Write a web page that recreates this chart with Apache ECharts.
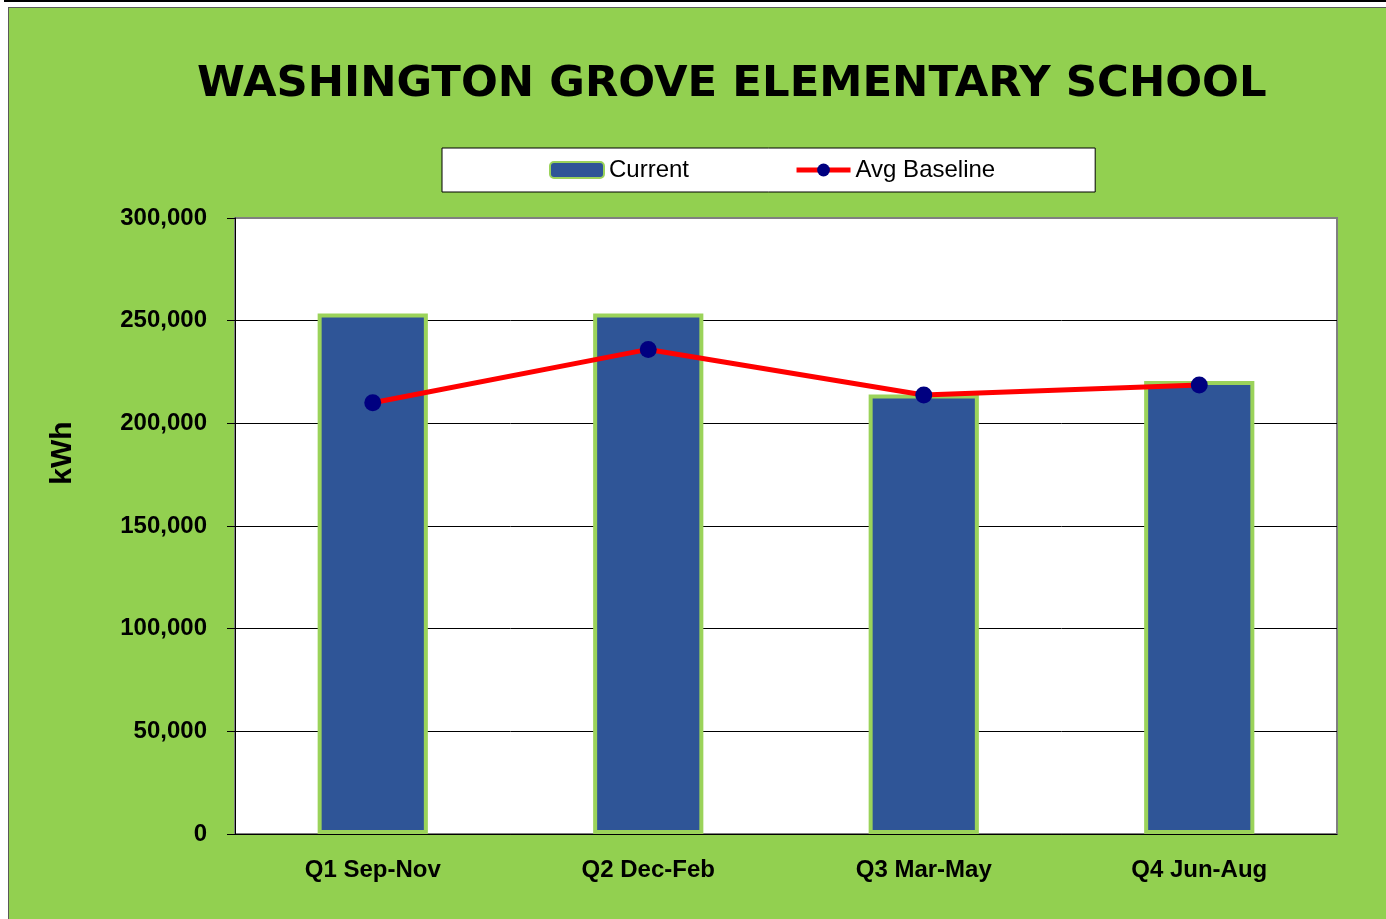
<!DOCTYPE html>
<html>
<head>
<meta charset="utf-8">
<script src="https://cdn.jsdelivr.net/npm/echarts@6/dist/echarts.min.js"></script>
<style>
  html, body { margin: 0; padding: 0; background: #fff; }
  #topline { position: absolute; left: 4px; top: 0; width: 1382px; height: 2px; background: #000; }
  #frame { position: absolute; left: 8px; top: 7px; width: 1378px; height: 912px;
           background: #92D050; border-left: 1px solid #595959; border-top: 1px solid #595959; }
  #chart { position: absolute; left: 0; top: 0; width: 1386px; height: 919px; }
</style>
</head>
<body>
<div id="topline"></div>
<div id="frame"></div>
<div id="chart"></div>
<script>
const quarters = ['Q1 Sep-Nov', 'Q2 Dec-Feb', 'Q3 Mar-May', 'Q4 Jun-Aug']
const currentKwh = [253500, 253500, 214000, 220600]
const baselineKwh = [210000, 236000, 213800, 218700]

const sans = '"Liberation Sans", Arial, sans-serif'

const myChart = echarts.init(document.getElementById('chart'))
myChart.setOption({
  backgroundColor: 'transparent',
  animation: false,
  title: {
    text: 'WASHINGTON GROVE ELEMENTARY SCHOOL',
    left: 197,
    top: 63,
    padding: 0,
    textStyle: {
      fontFamily: '"DejaVu Sans", sans-serif',
      fontWeight: 'bold',
      fontSize: 43.4,
      color: '#000'
    }
  },
  graphic: [
    {
      type: 'text',
      x: 63,
      y: 453,
      rotation: Math.PI / 2,
      style: {
        text: 'kWh',
        fontFamily: sans,
        fontWeight: 'bold',
        fontSize: 30,
        fill: '#000',
        align: 'center',
        verticalAlign: 'middle'
      }
    }
  ],
  legend: {
    left: 442,
    top: 148,
    padding: [10, 100, 10, 107],
    itemGap: 105,
    itemWidth: 54,
    itemHeight: 16,
    backgroundColor: '#fff',
    borderColor: '#000',
    borderWidth: 1,
    selectedMode: false,
    lineStyle: { width: 5 },
    textStyle: {
      fontFamily: sans,
      fontSize: 24,
      color: '#000'
    },
    data: ['Current', 'Avg Baseline']
  },
  grid: {
    left: 235,
    top: 218,
    right: 49,
    bottom: 85,
    show: true,
    backgroundColor: '#fff',
    borderColor: '#808080',
    borderWidth: 2
  },
  xAxis: [
    {
      type: 'category',
      data: quarters,
      axisLine: { lineStyle: { color: '#000', width: 1 } },
      axisTick: { length: 8, lineStyle: { color: '#000' } },
      axisLabel: {
        margin: 24,
        fontFamily: sans,
        fontWeight: 'bold',
        fontSize: 24,
        color: '#000'
      }
    },
    {
      type: 'category',
      data: quarters,
      position: 'bottom',
      axisLine: { show: false },
      axisTick: { inside: true, length: 8, lineStyle: { color: '#000' } },
      axisLabel: { show: false }
    }
  ],
  yAxis: {
    type: 'value',
    min: 0,
    max: 300000,
    interval: 50000,
    axisLine: { show: true, lineStyle: { color: '#000', width: 1 } },
    axisTick: { show: true, length: 8, lineStyle: { color: '#000' } },
    axisLabel: {
      margin: 28,
      fontFamily: sans,
      fontWeight: 'bold',
      fontSize: 24,
      color: '#000',
      formatter: function (v) { return v.toLocaleString('en-US') }
    },
    splitLine: { showMaxLine: false, lineStyle: { color: '#000', width: 1 } }
  },
  series: [
    {
      name: 'Current',
      type: 'bar',
      xAxisIndex: 0,
      barWidth: '40%',
      data: currentKwh,
      itemStyle: { color: '#2F5597', borderColor: '#9BD35A', borderWidth: 4 }
    },
    {
      name: 'Avg Baseline',
      type: 'line',
      xAxisIndex: 0,
      data: baselineKwh,
      symbol: 'circle',
      symbolSize: 17,
      lineStyle: { color: '#FF0000', width: 5 },
      itemStyle: { color: '#000080' },
      z: 5
    }
  ]
})
</script>
</body>
</html>
